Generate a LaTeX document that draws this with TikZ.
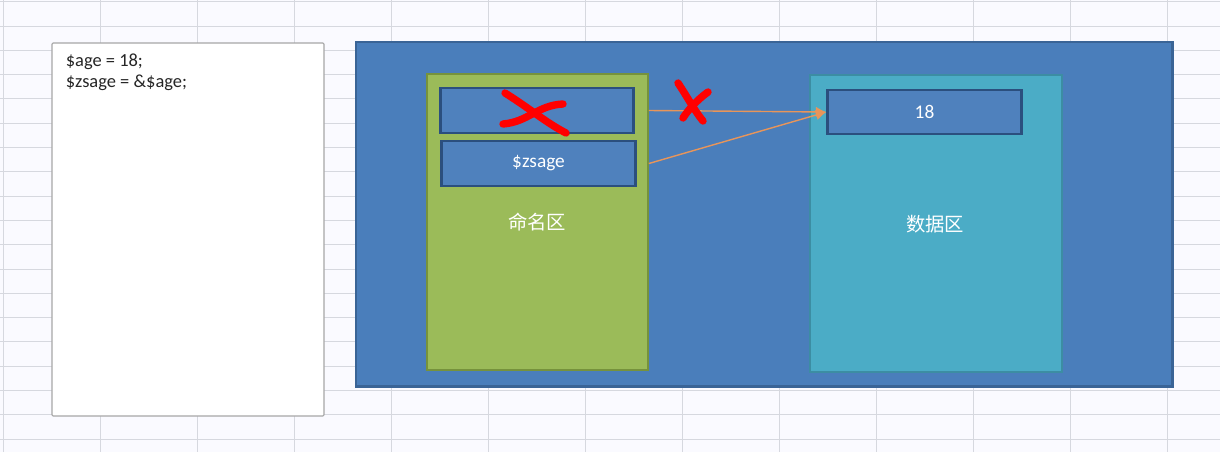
\documentclass[tikz,border=0pt]{standalone}
\usepackage{fontspec}
\setmainfont{Carlito}
\newfontfamily\cjk{Noto Sans CJK SC}
\usetikzlibrary{positioning, arrows.meta, calc}
\definecolor{sheetgrid}{HTML}{D6D8DF}
\definecolor{codeedge}{HTML}{A6A6A6}
\definecolor{stackblue}{HTML}{4A7EBB}
\definecolor{stackedge}{HTML}{3A6496}
\definecolor{namegreen}{HTML}{9BBB59}
\definecolor{nameedge}{HTML}{76923C}
\definecolor{datacyan}{HTML}{4BACC6}
\definecolor{dataedge}{HTML}{3C8DA3}
\definecolor{cellblue}{HTML}{4F81BD}
\definecolor{celledge}{HTML}{2B4F7E}
\definecolor{linkorange}{HTML}{E8955A}
\tikzset{
    codebox/.style={draw=codeedge, fill=white, line width=0.6pt, rounded corners=0.6pt,
      minimum width=54.4mm, minimum height=74.6mm, inner sep=0pt},
    region/.style={line width=1pt, inner sep=0pt},
    cell/.style={draw=celledge, fill=cellblue, line width=1.6pt, inner sep=0pt,
      minimum width=38.7mm, minimum height=9mm, text=white, font=\fontsize{11}{13}\selectfont},
    zonetext/.style={text=white, font=\cjk\fontsize{11}{13}\selectfont},
    pointer/.style={draw=linkorange, line width=0.8pt, -{Latex[length=6pt,width=6pt]}},
    strike/.style={draw=red, line width=4.2pt, line cap=round, line join=round},
}

\begin{document}
\begin{tikzpicture}[x=0.2mm, y=-0.2mm]
    \useasboundingbox[fill=white!98!blue] (0,0) rectangle (1220,452);

    % sheet grid
    \foreach \gx in {3,100,...,1170}
      \draw[sheetgrid, line width=0.5pt] (\gx,0) -- (\gx,452);
    \foreach \gy in {0,...,18}
      \draw[sheetgrid, line width=0.5pt] (0,1.7+24.3*\gy) -- (1220,1.7+24.3*\gy);

    % code
    \node[codebox] (code) at (188,229.5) {};
    \node[anchor=north west, inner sep=0pt, align=left, text=black!85,
      font=\fontsize{10.5}{12}\selectfont] (codetext) at ($(code.north west)+(14,11)$)
      {\$age = 18;\\\$zsage = \&\$age;};

    % stack
    \node[region, draw=stackedge, fill=stackblue, line width=1.7pt,
      minimum width=163.2mm, minimum height=68.8mm] (stack) at (764,214) {};
    \node[region, draw=nameedge, fill=namegreen,
      minimum width=44.2mm, minimum height=59.2mm] (names) at (537.5,222) {};
    \node[region, draw=dataedge, fill=datacyan,
      minimum width=50.4mm, minimum height=59.4mm] (data) at (936,223.5) {};

    \node[cell] (agecell) at (537,110.5) {};
    \node[cell] (zsagecell) at (538.5,163.5) {\$zsage};
    \node[cell, minimum height=8.8mm] (valcell) at (924.5,112) {18};

    \node[zonetext] (namelabel) at (537,222) {命名区};
    \node[zonetext] (datalabel) at (935,224) {数据区};

    \draw[pointer] (agecell -| names.east) -- (valcell.west);
    \draw[pointer] (zsagecell -| names.east) -- (valcell.west);

    % crossed out
    \draw[strike] (505,93) .. controls (532,110) and (545,122) .. (566,133);
    \draw[strike] (503,124) .. controls (528,122) and (538,105) .. (563,104);
    \draw[strike] (678,83) .. controls (688,98) and (694,110) .. (703,121);
    \draw[strike] (708,92) .. controls (697,100) and (688,110) .. (683,118);
\end{tikzpicture}
\end{document}
